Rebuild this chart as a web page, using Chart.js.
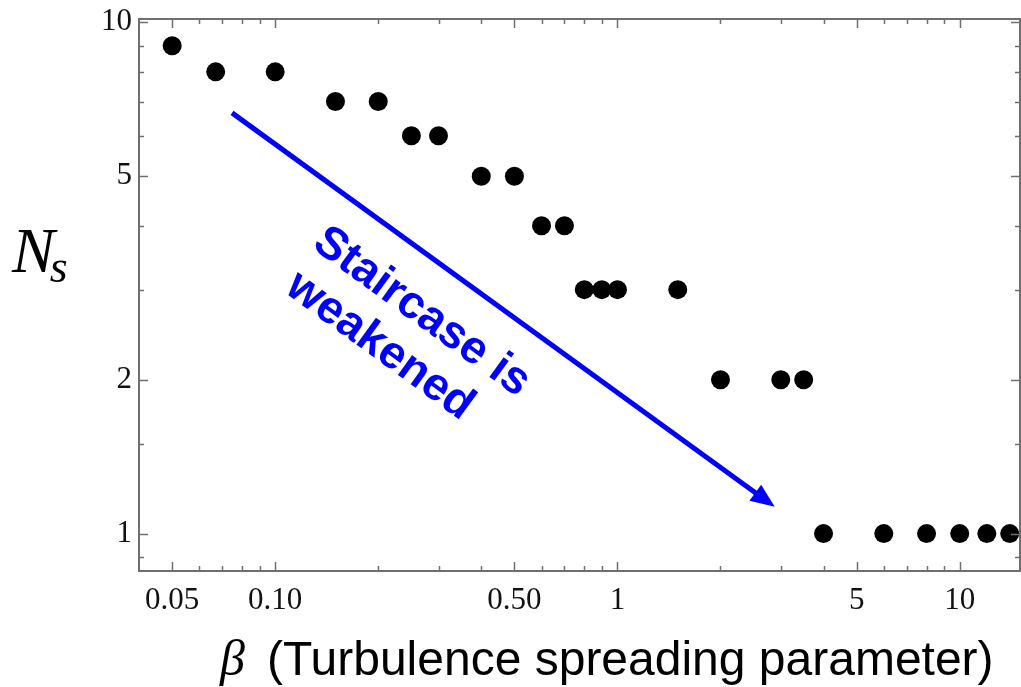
<!DOCTYPE html>
<html>
<head>
<meta charset="utf-8">
<script src="https://cdn.jsdelivr.net/npm/chart.js@4.4.1/dist/chart.umd.min.js"></script>
<style>
    html, body { margin: 0; padding: 0; background: #fff; }
    #wrap { width: 1021px; height: 687px; }
</style>
</head>
<body>
<div id="wrap"><canvas id="nsChart"></canvas></div>
<script>
// beta (turbulence spreading parameter) vs number of staircase steps
const betaValues = [0.05, 0.067, 0.1, 0.15, 0.2, 0.25, 0.3, 0.4, 0.5, 0.6, 0.7, 0.8, 0.9, 1.0, 1.5, 2, 3, 3.5, 4, 6, 8, 10, 12, 14];
const nsValues   = [9, 8, 8, 7, 7, 6, 6, 5, 5, 4, 4, 3, 3, 3, 3, 2, 2, 2, 1, 1, 1, 1, 1, 1];

const xTickValues = [0.05, 0.1, 0.5, 1, 5, 10];
const xTickLabels = ['0.05', '0.10', '0.50', '1', '5', '10'];
const xMinorTicks = [0.06, 0.07, 0.08, 0.09, 0.2, 0.3, 0.4, 0.6, 0.7, 0.8, 0.9, 2, 3, 4, 6, 7, 8, 9];
const yTickValues = [1, 2, 5, 10];
const yTickLabels = ['1', '2', '5', '10'];
const yMinorTicks = [0.9, 1.5, 3, 4, 6, 7, 8, 9];

// annotation, in data coordinates
const arrowFrom = { x: 0.0748, y: 6.65 };
const arrowTo = { x: 2.88, y: 1.128 };
const noteAt = { x: 0.127, y: 3.63 };
const noteLines = ['Staircase is', 'weakened'];

const frameColor = '#6f6f6f';

const framePlugin = {
    id: 'framePlugin',
    afterDatasetsDraw(chart) {
        const { ctx, chartArea: a, scales: { x, y } } = chart;
        ctx.save();
        ctx.strokeStyle = frameColor;
        ctx.lineWidth = 2;
        ctx.strokeRect(a.left, a.top, a.right - a.left, a.bottom - a.top);

        ctx.lineWidth = 1.5;
        function xTicks(vals, len) {
            vals.forEach(v => {
                const px = Math.round(x.getPixelForValue(v)) + 0.5;
                ctx.beginPath();
                ctx.moveTo(px, a.bottom); ctx.lineTo(px, a.bottom - len);
                ctx.moveTo(px, a.top); ctx.lineTo(px, a.top + len);
                ctx.stroke();
            });
        }
        function yTicks(vals, len) {
            vals.forEach(v => {
                const py = Math.round(y.getPixelForValue(v)) + 0.5;
                ctx.beginPath();
                ctx.moveTo(a.left, py); ctx.lineTo(a.left + len, py);
                ctx.moveTo(a.right, py); ctx.lineTo(a.right - len, py);
                ctx.stroke();
            });
        }
        xTicks(xTickValues, 9);
        xTicks(xMinorTicks, 5);
        yTicks(yTickValues, 9);
        yTicks(yMinorTicks, 5);

        // arrow
        const x0 = x.getPixelForValue(arrowFrom.x), y0 = y.getPixelForValue(arrowFrom.y);
        const x1 = x.getPixelForValue(arrowTo.x), y1 = y.getPixelForValue(arrowTo.y);
        const ang = Math.atan2(y1 - y0, x1 - x0);
        const head = 24, half = 10;
        ctx.strokeStyle = '#0000ff';
        ctx.fillStyle = '#0000ff';
        ctx.lineWidth = 5;
        ctx.beginPath();
        ctx.moveTo(x0, y0);
        ctx.lineTo(x1 - head * 0.8 * Math.cos(ang), y1 - head * 0.8 * Math.sin(ang));
        ctx.stroke();
        ctx.beginPath();
        ctx.moveTo(x1, y1);
        ctx.lineTo(x1 - head * Math.cos(ang) + half * Math.sin(ang), y1 - head * Math.sin(ang) - half * Math.cos(ang));
        ctx.lineTo(x1 - head * Math.cos(ang) - half * Math.sin(ang), y1 - head * Math.sin(ang) + half * Math.cos(ang));
        ctx.closePath();
        ctx.fill();

        // rotated note
        ctx.translate(x.getPixelForValue(noteAt.x), y.getPixelForValue(noteAt.y));
        ctx.rotate(ang);
        ctx.font = 'bold 46px "Liberation Sans", Arial, sans-serif';
        ctx.textAlign = 'left';
        ctx.textBaseline = 'alphabetic';
        ctx.fillText(noteLines[0], 0, 0);
        ctx.fillText(noteLines[1], 4, 52);
        ctx.restore();
    },
    afterDraw(chart) {
        const { ctx } = chart;
        ctx.save();
        ctx.fillStyle = '#000';
        ctx.textBaseline = 'alphabetic';
        // y axis title N_s
        ctx.font = 'italic 64px "Liberation Serif", serif';
        ctx.fillText('N', 12, 272);
        const nw = ctx.measureText('N').width;
        ctx.font = 'italic 46px "Liberation Serif", serif';
        ctx.fillText('s', 12 + nw - 5, 282);
        // x axis title
        ctx.font = 'italic 50px "Liberation Serif", serif';
        ctx.fillText('\u03B2', 220, 675);
        ctx.font = '48px "Liberation Sans", Arial, sans-serif';
        ctx.fillText('(Turbulence spreading parameter)', 267, 675);
        ctx.restore();
    }
};

const ctx = document.getElementById('nsChart').getContext('2d');
new Chart(ctx, {
    type: 'scatter',
    data: {
        datasets: [{
            label: 'Ns',
            data: betaValues.map((b, i) => ({ x: b, y: nsValues[i] })),
            backgroundColor: '#000',
            borderWidth: 0,
            pointRadius: 9.5,
            pointHoverRadius: 9.5
        }]
    },
    options: {
        responsive: true,
        maintainAspectRatio: false,
        animation: false,
        layout: { autoPadding: false, padding: { top: 19, right: 1, left: 0, bottom: 0 } },
        plugins: {
            legend: { display: false },
            tooltip: { enabled: false }
        },
        scales: {
            x: {
                type: 'logarithmic',
                min: 0.04,
                max: 15,
                afterBuildTicks: s => { s.ticks = xTickValues.map(v => ({ value: v })); },
                afterFit: s => { s.height = 116; s.paddingLeft = 0; s.paddingRight = 0; },
                grid: { display: false, drawTicks: false },
                border: { display: false },
                ticks: {
                    autoSkip: false,
                    maxRotation: 0,
                    padding: 11,
                    color: '#111',
                    font: { family: '"Liberation Serif", serif', size: 31 },
                    callback: (v, i) => xTickLabels[i]
                }
            },
            y: {
                type: 'logarithmic',
                min: 0.845,
                max: 10.15,
                afterBuildTicks: s => { s.ticks = yTickValues.map(v => ({ value: v })); },
                afterFit: s => { s.width = 139; s.paddingTop = 0; s.paddingBottom = 0; },
                grid: { display: false, drawTicks: false },
                border: { display: false },
                ticks: {
                    autoSkip: false,
                    padding: 7,
                    color: '#111',
                    font: { family: '"Liberation Serif", serif', size: 31 },
                    callback: (v, i) => yTickLabels[i]
                }
            }
        }
    },
    plugins: [framePlugin]
});
</script>
</body>
</html>
